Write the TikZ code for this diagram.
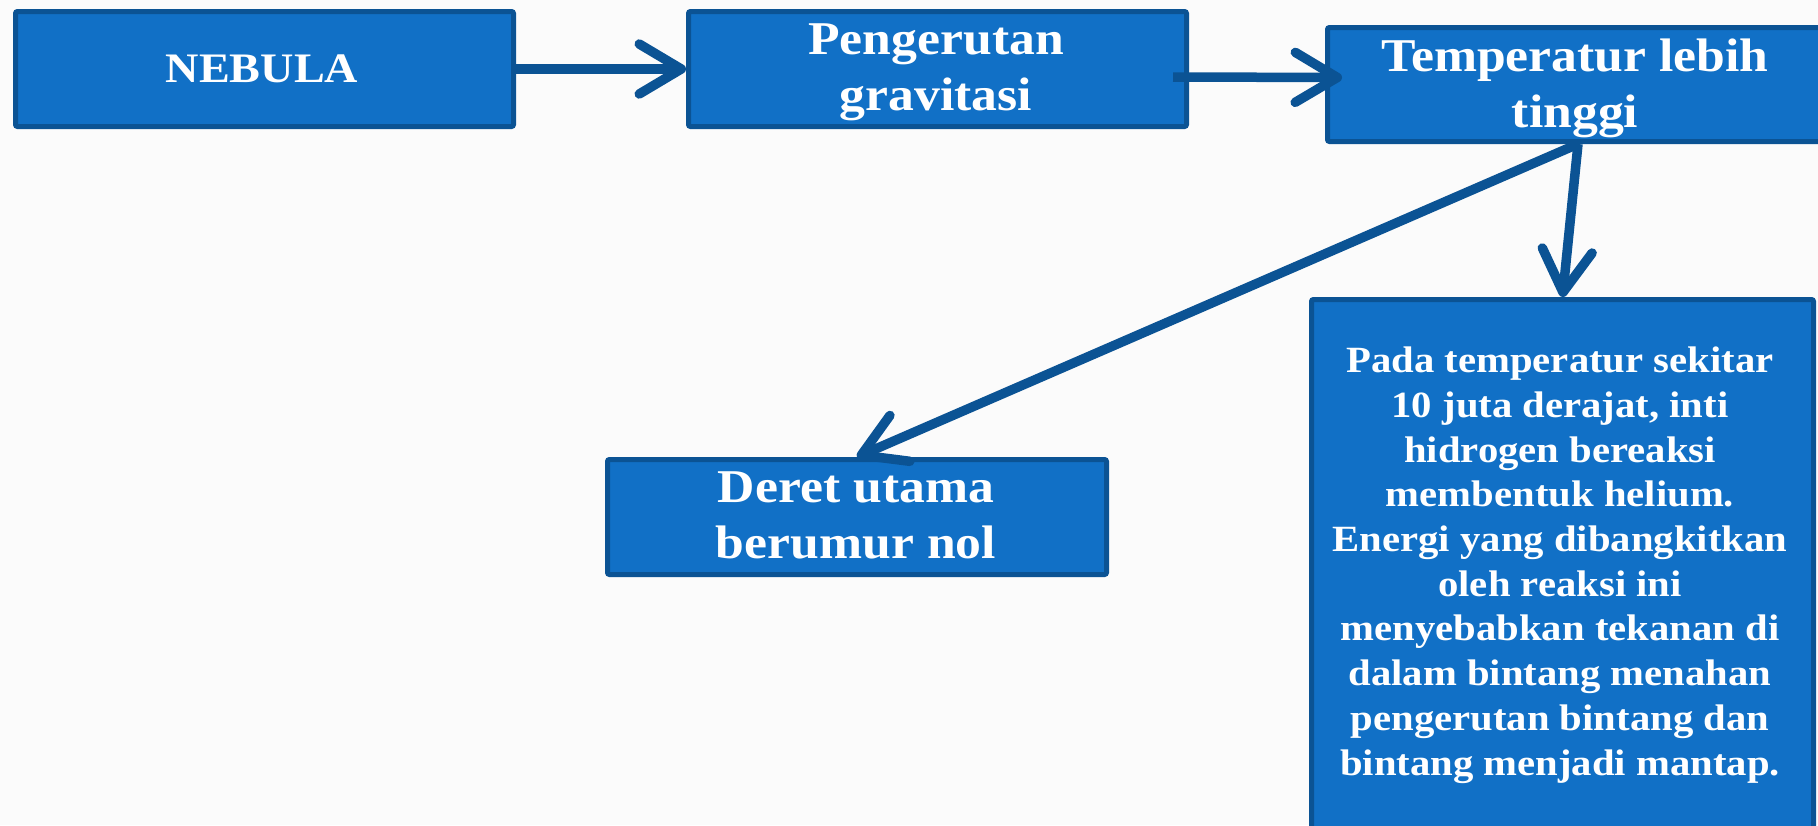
\documentclass[tikz,border=0pt]{standalone}
\usepackage{fontspec}
\setmainfont{Liberation Serif}[FakeStretch=1.1]
\usetikzlibrary{arrows.meta,calc}
\definecolor{boxfill}{RGB}{17,112,198}
\definecolor{boxline}{RGB}{11,83,148}
\definecolor{bg}{RGB}{251,251,251}
\begin{document}
\begin{tikzpicture}[x=1pt,y=-1pt,
  box/.style={draw=boxline, fill=boxfill, line width=5pt, rounded corners=2pt, inner sep=0pt, anchor=north west},
  lbl/.style={text=white, font=\bfseries\fontsize{47}{56}\selectfont, align=center, inner sep=0pt, anchor=base},
  small/.style={font=\bfseries\fontsize{37}{44.7}\selectfont},
  conn/.style={draw=boxline, line width=9.5pt, -{Straight Barb[length=42pt,width=50pt,round]}}]
\clip (0,0) rectangle (1818,825);
\fill[bg] (0,0) rectangle (1818,825);
% boxes
\node[box, minimum width=498pt, minimum height=115pt] (neb) at (13,9) {};
\node[box, minimum width=498pt, minimum height=115pt] (peng) at (686,9) {};
\node[box, minimum width=501pt, minimum height=114pt] (temp) at (1325,25) {};
\node[box, minimum width=499pt, minimum height=115pt] (der) at (605,457) {};
\node[box, minimum width=502pt, minimum height=540pt] (big) at (1309,297) {};
% texts (anchor base = last line baseline)
\node[lbl, font=\bfseries\fontsize{42}{50}\selectfont] (tneb) at (262,82) {NEBULA};
\node[lbl] (tpeng) at (936,110) {Pengerutan\\gravitasi};
\node[lbl] (ttemp) at (1575,127) {Temperatur lebih\\tinggi};
\node[lbl] (tder) at (856,558) {Deret utama\\berumur nol};
\node[lbl, small] (tbig) at (1560,775) {Pada temperatur sekitar\\10 juta derajat, inti\\hidrogen bereaksi\\membentuk helium.\\Energi yang dibangkitkan\\oleh reaksi ini\\menyebabkan tekanan di\\dalam bintang menahan\\pengerutan bintang dan\\bintang menjadi mantap.};
% connectors
\draw[conn] (neb.east) -- (peng.west);
\draw[conn] ($(peng.east)+(-16,8)$) -- ($(temp.west)+(17,-7)$);
\draw[conn] (temp.south) -- (big.north);
\draw[conn] (temp.south) -- (der.north);
\end{tikzpicture}
\end{document}
